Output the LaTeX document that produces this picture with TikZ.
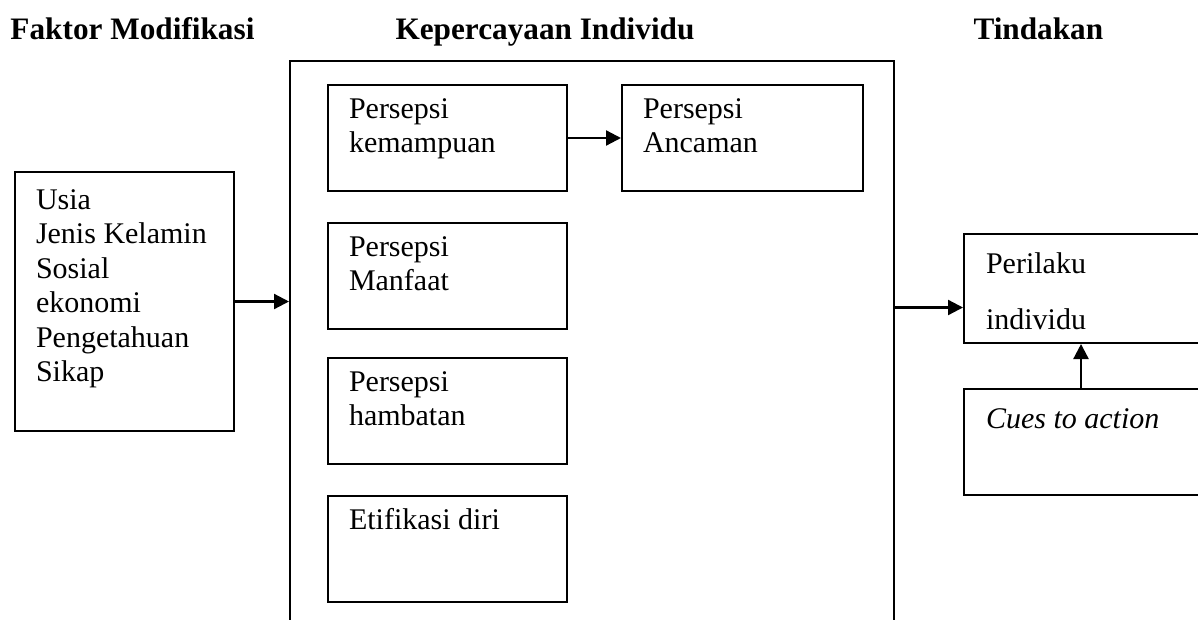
\documentclass[tikz,border=0pt]{standalone}
\usepackage{fontspec}
\setmainfont{Liberation Serif}
\usetikzlibrary{arrows.meta,positioning}

\begin{document}
\begin{tikzpicture}[
  x=0.4pt, y=-0.4pt,
  font=\fontsize{12}{13.8}\selectfont,
  node distance=12pt and 21.2pt,
  head/.style={font=\fontsize{12.5}{14}\selectfont\bfseries, anchor=base west, inner sep=0pt},
  box/.style={rectangle, draw, line width=0.8pt, anchor=north west, align=flush left, inner xsep=8.4pt, inner ysep=0pt, text width=78.8pt, text height=13.2pt, text depth=29.2pt},
  widebox/.style={box, inner xsep=8.8pt, text width=110pt, text height=15.6pt},
  frame/.style={rectangle, draw, line width=0.8pt, anchor=north west, inner sep=0pt, minimum width=241.6pt, minimum height=232pt},
  arrow/.style={-{Triangle[length=6pt,width=6pt]}, line width=0.9pt}
]
  \useasboundingbox (0,0) rectangle (1198,619);

  % Headings
  \node[head] (hfaktor) at (10,40) {Faktor Modifikasi};
  \node[head] (hpercaya) at (395,40) {Kepercayaan Individu};
  \node[head] (htindak) at (973,40) {Tindakan};

  % Left: modifying factors
  \node[box, text width=70.8pt, text height=14.8pt, text depth=88.8pt] (faktor) at (14,171) {Usia\\Jenis Kelamin\\Sosial\\ekonomi\\Pengetahuan\\Sikap};

  % Middle: frame with the four perceptions
  \node[frame] (frame) at (289,60) {};
  \node[box] (kemampuan) at (327,84) {Persepsi\\kemampuan};
  \node[box, anchor=west, right=of kemampuan, text width=79.6pt] (ancaman) {Persepsi\\Ancaman};
  \node[box, anchor=north, below=of kemampuan] (manfaat) {Persepsi\\Manfaat};
  \node[box, anchor=north, below=10.8pt of manfaat] (hambatan) {Persepsi\\hambatan};
  \node[box, anchor=north, below=of hambatan] (etifikasi) {Etifikasi diri};
  \draw[arrow] (kemampuan.east) -- (ancaman.west);
  \draw[arrow] (faktor.east) -- (faktor.east -| frame.west);

  % Right: action
  \node[widebox, font=\fontsize{12}{22.4}\selectfont, text depth=28pt] (perilaku) at (963,233) {Perilaku\\individu};
  \node[widebox, anchor=north, below=17.6pt of perilaku, text depth=26.8pt] (cues) {\textit{Cues to action}};
  \coordinate (pin) at ([yshift=-7.6pt]perilaku.west);
  \draw[arrow] (pin -| frame.east) -- (pin);
  \coordinate (cuestop) at ([xshift=47.2pt]cues.north west);
  \draw[arrow] (cuestop) -- (cuestop |- perilaku.south);
\end{tikzpicture}
\end{document}
